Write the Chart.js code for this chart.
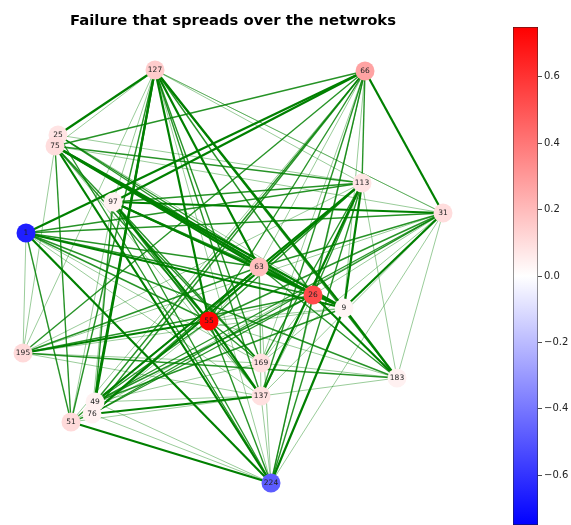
<!DOCTYPE html>
<html>
<head>
<meta charset="utf-8">
<script src="https://cdn.jsdelivr.net/npm/chart.js@4.4.1/dist/chart.umd.min.js"></script>
<style>
  html, body { margin: 0; padding: 0; background: #fff; }
  #wrap { position: relative; width: 571px; height: 525px; overflow: hidden; }
  #net { position: absolute; left: 0; top: 0; }
  #bar { position: absolute; left: 480px; top: 0; }
</style>
</head>
<body>
<div id="wrap">
  <canvas id="net" width="466" height="525"></canvas>
  <canvas id="bar" width="91" height="525"></canvas>
</div>
<script>
// Node ids, layout coordinates and failure value of each node
const nodeIds = ['127', '66', '25', '75', '113', '31', '97', '1', '63', '26', '9', '55', '195', '169', '183', '49', '76', '137', '51', '224'];
const nodeX   = [155, 365, 58, 55, 362, 443, 113, 26, 259, 313, 344, 209, 23, 261, 397, 95, 92, 261, 71, 271];
const nodeY   = [70, 71, 135, 146, 183, 213, 202, 233, 267, 295, 308, 321, 353, 363, 378, 402, 414, 396, 422, 483];
const nodeValue = [0.15, 0.27, 0.08, 0.10, 0.08, 0.10, 0.04, -0.66, 0.19, 0.53, 0.03, 0.74, 0.11, 0.09, 0.04, 0.04, 0.04, 0.09, 0.11, -0.48];

// Links: source, target, strength (1 weak, 2 medium, 3 strong)
const edgeFrom = [
  '127','127','127','127','127','127','127','127','127','127','127','127','127','127','127','127','127',
  '66','66','66','66','66','66','66','66','66','66','66','66','66','66','66','66',
  '113','113','113','113','113','113','113','113','113','113','113','113','113','113','113',
  '31','31','31','31','31','31','31','31','31','31','31','31','31','31','31','31',
  '9','9','9','9','9','9','9','9','9','9','9',
  '26','26','26','26','26','26','26','26','26','26','26','26','26',
  '63','63','63','63','63','63','63','63','63','63','63','63',
  '55','55','55','55','55','55','55','55','55','55',
  '169','169','169','169','169','169',
  '137','137','137','137','137','137','137',
  '224','224','224','224','224','224','224',
  '195','195','195','195',
  '49','49','49',
  '76','76',
  '51','51','51','51',
  '1'
];
const edgeTo = [
  '25','75','195','51','49','76','97','55','169','137','63','26','9','183','113','31','224',
  '31','1','97','75','195','49','76','51','55','63','169','137','224','26','9','113',
  '75','1','97','25','49','76','55','63','169','137','183','224','26','9','195',
  '127','97','1','75','195','49','76','55','63','26','9','169','137','224','183','51',
  '1','75','97','25','63','26','55','195','49','183','224',
  '1','75','25','97','63','55','195','49','76','169','137','183','224',
  '75','25','1','97','55','169','137','49','76','195','224','183',
  '97','75','1','195','169','137','224','183','49','76',
  '1','75','97','195','183','49',
  '1','75','97','183','224','76','49',
  '1','75','97','51','76','49','25',
  '75','1','183','137',
  '97','76','51',
  '97','51',
  '1','75','97','137',
  '183'
];
const edgeWeight = [
  3,1,1,2,3,3,1,3,2,2,3,2,3,2,1,1,1,
  3,3,3,2,2,2,2,1,2,1,1,2,1,2,1,2,
  2,2,2,1,3,3,2,1,2,3,1,2,2,3,1,
  1,3,2,1,1,2,2,2,2,1,3,1,1,1,1,1,
  3,3,3,1,2,2,1,1,2,3,3,
  2,3,2,2,2,1,2,2,2,1,1,3,2,
  3,2,2,2,1,1,1,2,2,2,1,2,
  3,2,2,3,2,3,2,1,2,1,
  1,2,2,1,1,1,
  1,1,2,1,1,3,1,
  3,3,2,3,1,1,2,
  1,1,2,1,
  2,1,2,
  1,2,
  2,2,1,1,
  2
];

// Colour scale limits
const valueMin = -0.75;
const valueMax = 0.75;
const barTicks = [-0.6, -0.4, -0.2, 0.0, 0.2, 0.4, 0.6];

// blue-white-red colour map
function bwr(v) {
  const t = Math.max(0, Math.min(1, (v - valueMin) / (valueMax - valueMin)));
  let r, g, b;
  if (t < 0.5) {
    const s = t / 0.5;
    r = Math.round(255 * s); g = Math.round(255 * s); b = 255;
  } else {
    const s = (t - 0.5) / 0.5;
    r = 255; g = Math.round(255 * (1 - s)); b = Math.round(255 * (1 - s));
  }
  return `rgb(${r},${g},${b})`;
}

const posOf = {};
nodeIds.forEach((id, i) => { posOf[id] = { x: nodeX[i], y: nodeY[i] }; });

const widthFor = [0, 0.8, 1.4, 2.2];
const alphaFor = [0, 0.5, 0.85, 1.0];

const edgeSets = edgeFrom.map((s, i) => ({
  type: 'line',
  data: [posOf[s], posOf[edgeTo[i]]],
  showLine: true,
  borderColor: `rgba(0,128,0,${alphaFor[edgeWeight[i]]})`,
  borderWidth: widthFor[edgeWeight[i]],
  pointRadius: 0,
  fill: false,
  clip: false,
  order: 1
}));

const nodeSet = {
  type: 'scatter',
  data: nodeIds.map((id, i) => ({ x: nodeX[i], y: nodeY[i] })),
  pointRadius: 9.5,
  pointBackgroundColor: nodeValue.map(bwr),
  pointBorderWidth: 0,
  pointBorderColor: 'rgba(0,0,0,0)',
  clip: false,
  order: 0
};

const nodeLabels = {
  id: 'nodeLabels',
  afterDatasetsDraw(chart) {
    const { ctx, scales } = chart;
    ctx.save();
    ctx.font = '7.5px "DejaVu Sans"';
    ctx.fillStyle = '#222';
    ctx.textAlign = 'center';
    ctx.textBaseline = 'middle';
    nodeIds.forEach((id, i) => {
      ctx.fillText(id, scales.x.getPixelForValue(nodeX[i]), scales.y.getPixelForValue(nodeY[i]));
    });
    ctx.restore();
  }
};

const titleTop = 12, titleBottom = 8, titleSize = 14.8;
const titleHeight = titleTop + titleSize * 1.2 + titleBottom;

new Chart(document.getElementById('net'), {
  type: 'scatter',
  data: { datasets: [...edgeSets, nodeSet] },
  options: {
    responsive: false,
    animation: false,
    events: [],
    layout: { padding: 0, autoPadding: false },
    plugins: {
      legend: { display: false },
      tooltip: { enabled: false },
      title: {
        display: true,
        text: 'Failure that spreads over the netwroks',
        color: '#000',
        font: { family: 'DejaVu Sans', size: titleSize, weight: 'bold', lineHeight: 1.2 },
        padding: { top: titleTop, bottom: titleBottom }
      }
    },
    scales: {
      x: { type: 'linear', display: false, min: 0, max: 466 },
      y: { type: 'linear', display: false, min: titleHeight, max: 525, reverse: true }
    }
  },
  plugins: [nodeLabels]
});

// Colour bar
new Chart(document.getElementById('bar'), {
  type: 'bar',
  data: {
    labels: ['scale'],
    datasets: [{
      data: [[valueMin, valueMax]],
      backgroundColor(ctx) {
        const area = ctx.chart.chartArea;
        if (!area) return 'white';
        const g = ctx.chart.ctx.createLinearGradient(0, area.bottom, 0, area.top);
        g.addColorStop(0, bwr(valueMin));
        g.addColorStop(0.5, bwr(0));
        g.addColorStop(1, bwr(valueMax));
        return g;
      },
      borderColor: '#222',
      borderWidth: 0.8,
      borderSkipped: false,
      barPercentage: 1,
      categoryPercentage: 1
    }]
  },
  options: {
    responsive: false,
    animation: false,
    events: [],
    layout: { padding: { left: 33, top: 27, right: 0, bottom: 0 }, autoPadding: false },
    plugins: { legend: { display: false }, tooltip: { enabled: false } },
    scales: {
      x: { display: false },
      y: {
        position: 'right',
        min: valueMin,
        max: valueMax,
        afterBuildTicks(scale) { scale.ticks = barTicks.map(v => ({ value: v })); },
        afterFit(scale) { scale.width = 33; scale.paddingTop = 0; scale.paddingBottom = 0; },
        border: { display: false },
        grid: { drawOnChartArea: false, drawTicks: true, tickLength: 4, color: '#222', tickWidth: 0.8 },
        ticks: {
          color: '#222',
          padding: 2,
          font: { family: 'DejaVu Sans', size: 10 },
          callback(v) { return (v < 0 ? '\u2212' : '') + Math.abs(v).toFixed(1); }
        }
      }
    }
  }
});
</script>
</body>
</html>
